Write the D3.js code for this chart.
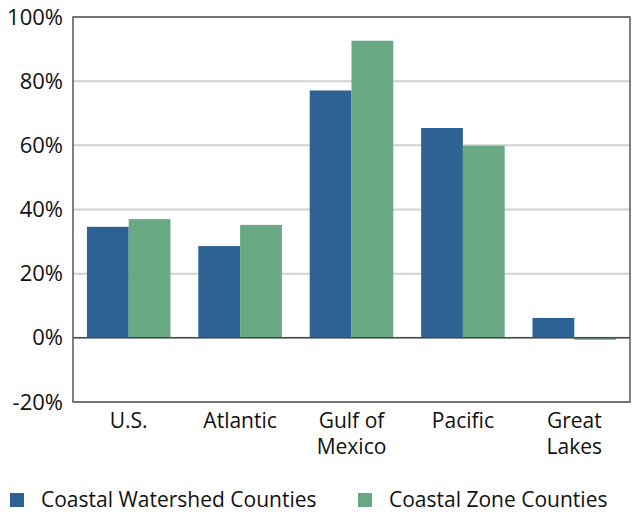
<!DOCTYPE html>
<html>
<head>
<meta charset="utf-8">
<script src="https://cdn.jsdelivr.net/npm/d3@7"></script>
<style>
  body { margin: 0; background: #fff; }
  text { font-family: "Open Sans", "Noto Sans", sans-serif; fill: #111; }
</style>
</head>
<body>
<script>
// chart data
var regions = ["U.S.", "Atlantic", "Gulf of\nMexico", "Pacific", "Great\nLakes"];
var seriesNames = ["Coastal Watershed Counties", "Coastal Zone Counties"];
var watershed = [34.6, 28.6, 77.1, 65.4, 6.2];
var zone = [37.0, 35.2, 92.6, 59.9, -0.6];
var yTicks = [-20, 0, 20, 40, 60, 80, 100];
var colors = ["#2d6394", "#68a883"];

var margin = {top: 17, right: 2, bottom: 112, left: 73},
    width = 632 - margin.left - margin.right,
    height = 514 - margin.top - margin.bottom;

var svg = d3.select("body").append("svg")
    .attr("width", 632)
    .attr("height", 514);

var g = svg.append("g")
    .attr("transform", "translate(" + margin.left + "," + margin.top + ")");

var x = d3.scaleBand().domain(regions).range([0, width])
    .paddingInner(0.25).paddingOuter(0.125);
var x1 = d3.scaleBand().domain(seriesNames).range([0, x.bandwidth()]);
var y = d3.scaleLinear().domain([-20, 100]).range([height, 0]);

// gridlines
g.selectAll(".grid")
    .data(yTicks)
    .enter().append("line")
    .attr("x1", 0).attr("x2", width)
    .attr("y1", function(d) { return y(d); })
    .attr("y2", function(d) { return y(d); })
    .attr("stroke", "#cfd2d0")
    .attr("stroke-width", 2);

// bars
var rows = regions.map(function(r, i) {
    return {region: r, values: [watershed[i], zone[i]]};
});
var groups = g.selectAll(".grp")
    .data(rows)
    .enter().append("g")
    .attr("transform", function(d) { return "translate(" + x(d.region) + ",0)"; });

groups.selectAll("rect")
    .data(function(d) { return d.values.map(function(v, j) { return {name: seriesNames[j], v: v, j: j}; }); })
    .enter().append("rect")
    .attr("x", function(d) { return x1(d.name); })
    .attr("width", x1.bandwidth())
    .attr("y", function(d) { return y(Math.max(0, d.v)); })
    .attr("height", function(d) { return Math.abs(y(d.v) - y(0)); })
    .attr("fill", function(d) { return colors[d.j]; });

// zero line
g.append("line")
    .attr("x1", 0).attr("x2", width)
    .attr("y1", y(0)).attr("y2", y(0))
    .attr("stroke", "#4a4a4a")
    .attr("stroke-width", 1.5);

// frame
g.append("rect")
    .attr("x", 0).attr("y", 0)
    .attr("width", width).attr("height", height)
    .attr("fill", "none")
    .attr("stroke", "#555")
    .attr("stroke-width", 1.5);

// y axis labels
var yAxis = g.append("g")
    .call(d3.axisLeft(y).tickValues(yTicks).tickSize(0).tickPadding(10)
        .tickFormat(function(d) { return d + "%"; }));
yAxis.select(".domain").remove();
yAxis.selectAll("text")
    .style("font-family", "'Open Sans', sans-serif")
    .style("font-size", "22px")
    .attr("fill", "#111");

// x axis labels, one text per line so the lines don't collide
var xAxis = g.append("g")
    .attr("transform", "translate(0," + height + ")")
    .call(d3.axisBottom(x).tickSize(0).tickPadding(11));
xAxis.select(".domain").remove();
xAxis.selectAll(".tick").each(function(d) {
    var tick = d3.select(this);
    var lines = d.split("\n");
    tick.select("text").text(lines[0]);
    for (var i = 1; i < lines.length; i++) {
        tick.append("text")
            .attr("fill", "#111")
            .attr("y", 11 + 26 * i)
            .attr("dy", "0.71em")
            .text(lines[i]);
    }
});
xAxis.selectAll("text")
    .style("font-family", "'Open Sans', sans-serif")
    .style("font-size", "21px")
    .attr("fill", "#111");
</script>
<script>
// legend
var legendX = [10, 358];
var legend = d3.select("svg").selectAll(".legend")
    .data(seriesNames)
    .enter().append("g")
    .attr("transform", function(d, i) { return "translate(" + legendX[i] + ",493)"; });
legend.append("rect")
    .attr("width", 14).attr("height", 14)
    .attr("fill", function(d, i) { return colors[i]; });
legend.append("text")
    .attr("x", 31).attr("y", 7)
    .attr("dy", "0.35em")
    .style("font-size", "21px")
    .text(function(d) { return d; });
</script>
</body>
</html>
